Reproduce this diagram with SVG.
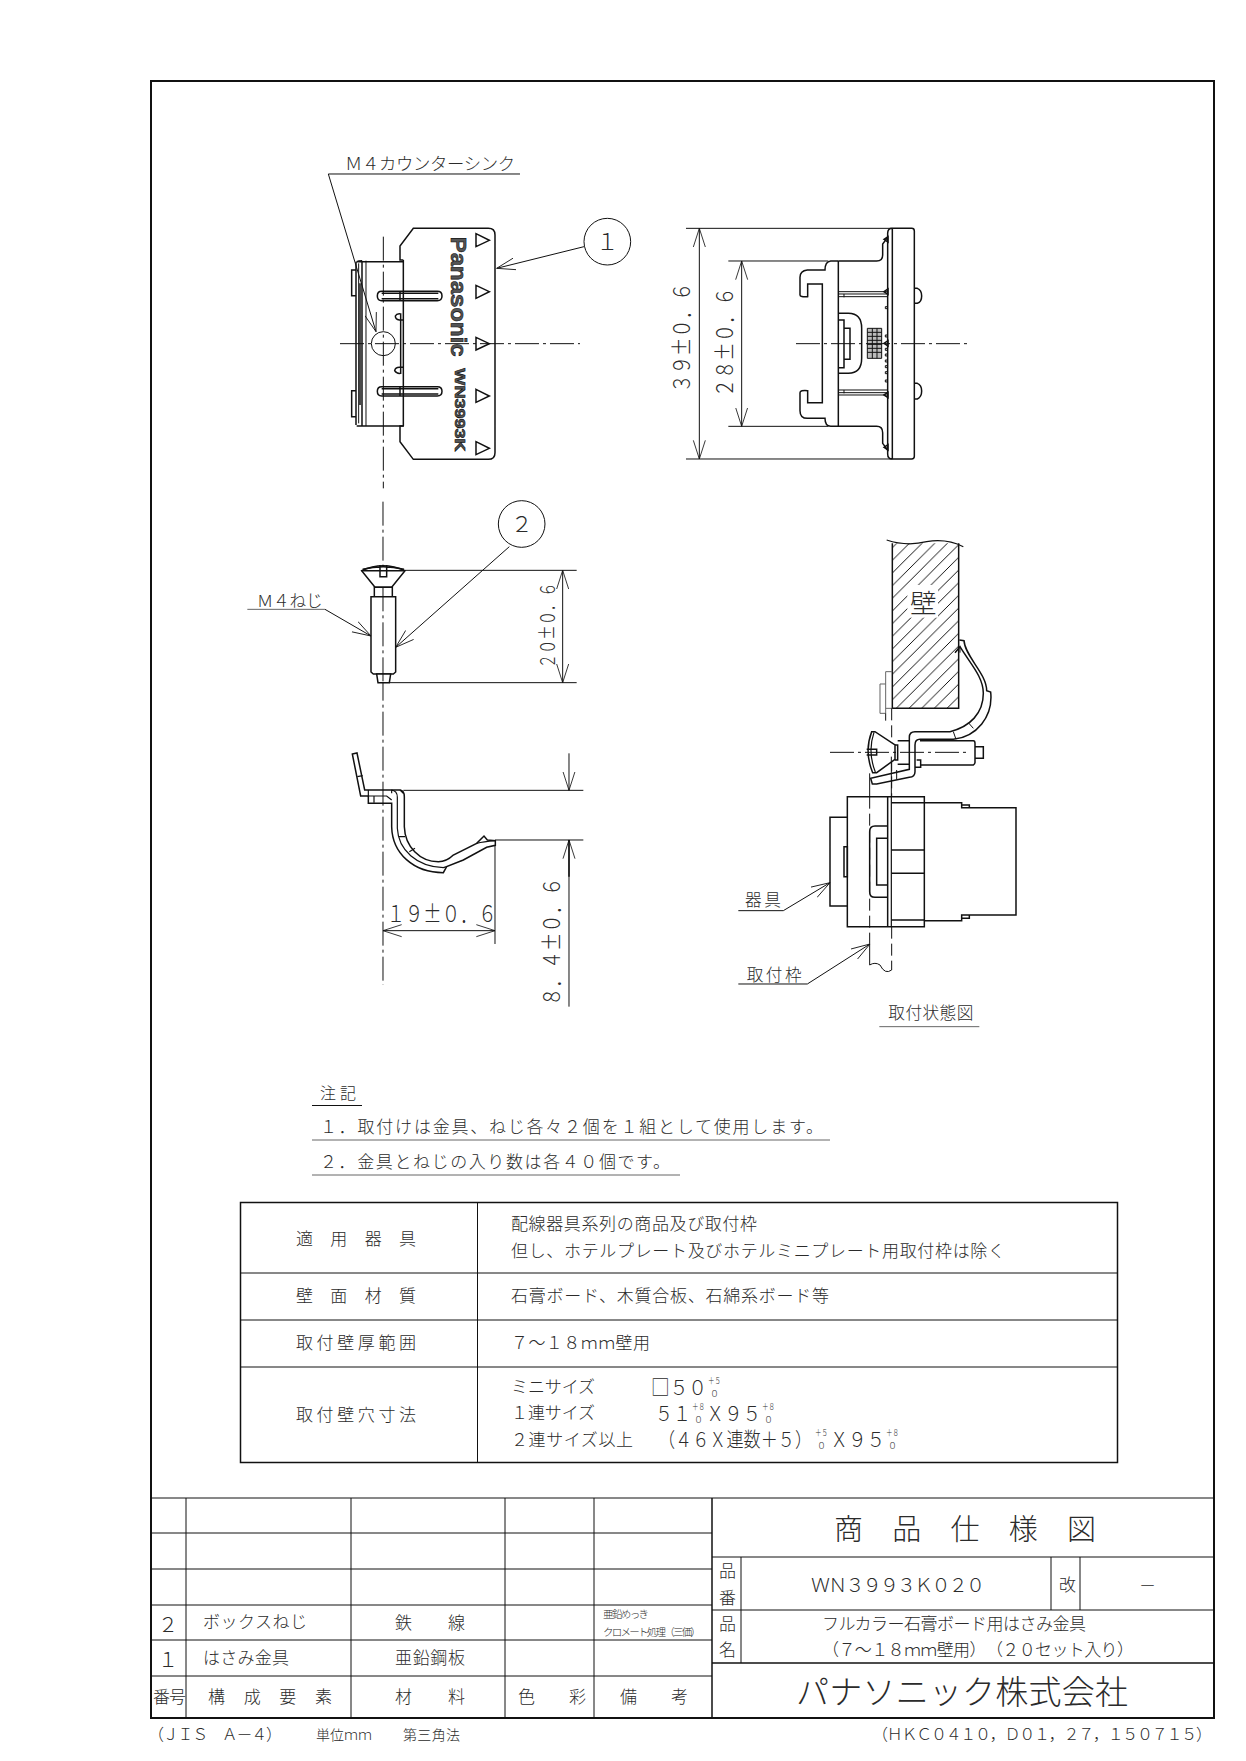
<svg xmlns="http://www.w3.org/2000/svg" width="1246" height="1761" viewBox="0 0 1246 1761">
<style>
text{font-family:"Noto Sans CJK JP","Noto Sans",sans-serif;fill:#2b2b2b;font-variant-east-asian:full-width;font-weight:300}
.p text{font-size:17px}
.p text.sm{font-size:9px}
.p text.md{font-size:20px}
.h,.n,.c,.g,.hi{fill:none;stroke:#111;vector-effect:non-scaling-stroke}
.h{stroke-width:1.5}
.n{stroke-width:1}
.g{stroke:#666;stroke-width:1}
.hi{stroke-width:1.2}
.c{stroke-width:1;stroke-dasharray:24 4 3 4}
.d{stroke-dasharray:12 5}
.a{marker-start:url(#ar);marker-end:url(#ar)}
.e{marker-end:url(#ar)}
.w{fill:#fff}
.big{font-size:68px}
.logo{font-family:"Liberation Sans",sans-serif;font-weight:700;font-variant-east-asian:normal;fill:#555;stroke:#111;stroke-width:.6;vector-effect:non-scaling-stroke}
</style>
<defs>
<marker id="ar" markerUnits="userSpaceOnUse" markerWidth="60" markerHeight="44" refX="56" refY="22" orient="auto-start-reverse"><path d="M0,4 L56,22 L0,40" fill="none" stroke="#111" stroke-width="2.5"/></marker>
<pattern id="hat" patternUnits="userSpaceOnUse" width="38" height="38"><path d="M-4,42 L42,-4 M-4,4 L4,-4 M34,42 L42,34" stroke="#000" stroke-width="2.8"/></pattern>
</defs>
<rect width="1246" height="1761" fill="#fff"/>
<rect id="frame" x="151" y="81" width="1063" height="1637" fill="none" stroke="#111" stroke-width="2"/>

<g id="front-view" transform="translate(300 130) scale(.33333)">
<path class="n" d="M85,132 H660"/>
<path class="n e" d="M85,132 L228,605"/>
<text x="135" y="120" font-size="52" textLength="510" lengthAdjust="spacing">M4カウンターシンク</text>
<path class="h" d="M310,390 H300 V348 L340,295 H565 Q585,295 585,315 V968 Q585,988 565,988 H340 L300,935 V888 H310 M310,295 M310,390 V888"/>
<path class="h" d="M170,395 H312 M170,888 H312 M170,395 Q176,392 186,392 M168,395 V885 M186,392 V888"/>
<path class="n" d="M198,392 V888 M176,400 V880"/>
<path class="h" d="M168,420 H155 V497 H168 M168,782 H155 V860 H168 M180,460 V825"/>
<path class="h" d="M245,484 H412 Q426,484 426,498 Q426,512 412,512 H245 Q232,512 232,498 Q232,484 245,484 Z M245,490 H415 M245,506 H415"/>
<path class="h" d="M245,770 H412 Q426,770 426,784 Q426,798 412,798 H245 Q232,798 232,784 Q232,770 245,770 Z M245,776 H415 M245,792 H415 M300,484 V512 M300,770 V798"/>
<path class="h" d="M312,570 H298 Q286,568 286,558 Q290,550 302,552 V572 M312,712 H298 Q286,712 284,722 Q290,732 302,730 V712 M302,572 V712"/>
<circle class="n" cx="250" cy="641" r="36"/>
<path class="c" d="M120,641 H840"/>
<path class="c" d="M250,320 V1075"/>
<path id="t1" class="h" d="M528,311 L568,331 L528,350 Z M528,466 L568,485 L528,505 Z M528,622 L568,641 L528,660 Z M528,778 L568,798 L528,817 Z M528,935 L568,955 L528,974 Z"/>
<text class="logo" transform="translate(452 320) rotate(90)" font-size="68" textLength="360" lengthAdjust="spacingAndGlyphs">Panasonic</text>
<text class="logo" transform="translate(465 715) rotate(90)" font-size="45" textLength="250" lengthAdjust="spacingAndGlyphs">WN3993K</text>
<circle class="n w" cx="922" cy="335" r="70"/>
<text x="888" y="360" font-size="68">1</text>
<path class="n e" d="M852,350 L590,415"/>
</g>

<g id="side-view" transform="translate(660 200) scale(.33333)">
<path class="n" d="M78,85 H697 M78,777 H697 M205,183 H505 M205,679 H505"/>
<path class="n a" d="M118,85 V777"/>
<path class="n a" d="M245,183 V679"/>
<text transform="translate(90 578) rotate(-90)" class="big" textLength="330" lengthAdjust="spacingAndGlyphs">39±0.6</text>
<text transform="translate(218 592) rotate(-90)" class="big" textLength="330" lengthAdjust="spacingAndGlyphs">28±0.6</text>
<path class="h" d="M697,85 H755 Q763,85 763,93 V769 Q763,777 755,777 H697 V85 M697,85 Q683,85 683,100 V762 Q683,777 697,777"/>
<path class="h" d="M535,183 V681 M535,183 H512 Q495,185 495,210 H442 Q420,212 420,232 V285 Q420,292 443,290 V252 H487 V608 H443 V572 Q420,570 420,578 V632 Q420,655 442,655 H495 Q495,679 512,679 H535"/>
<path class="h" d="M535,183 H650 Q668,183 668,165 V132 L683,112 M535,679 H650 Q668,679 668,698 V730 L683,750"/>
<path class="n" d="M535,275 H683 M535,282 H683 M535,290 H683 M535,570 H683 M535,578 H683 M535,585 H683 M552,282 V292 M552,570 V580"/>
<path class="h" d="M535,340 H565 Q605,340 605,385 V475 Q605,520 565,520 H535 M535,360 H552 V503 H535 M552,385 H570 V478 H552"/>
<path d="M622,385 H665 V475 H622 Z" fill="#bbb"/>
<path class="n" d="M622,385 H665 V475 H622 Z M622,397 H665 M622,409 H665 M622,421 H665 M622,433 H665 M622,445 H665 M622,457 H665 M637,385 V475 M651,385 V475"/>
<path class="h" d="M672,118 L684,110 V126 Z M672,275 L684,267 V283 Z M672,430 L684,422 V438 Z M672,585 L684,577 V593 Z M672,742 L684,734 V750 Z"/>
<path class="n" d="M676,320 h6 v6 h-6 z M676,405 h6 v6 h-6 z M676,445 h6 v6 h-6 z M676,462 h6 v6 h-6 z M676,480 h6 v6 h-6 z M676,497 h6 v6 h-6 z M676,515 h6 v6 h-6 z M676,540 h6 v6 h-6 z"/>
<path class="h" d="M763,265 H772 Q785,270 785,288 Q785,306 772,310 H763 M763,550 H772 Q785,555 785,573 Q785,591 772,597 H763"/>
<path class="c" d="M408,431 H925"/>
</g>

<g id="screw-and-bracket" transform="translate(230 500) scale(.33333)">
<path class="c" d="M459,5 V1455"/>
<circle class="n w" cx="875" cy="72" r="70"/>
<text x="842" y="97" font-size="66">2</text>
<path class="n e" d="M838,140 L497,442"/>
<path class="h w" d="M395,212 Q459,182 525,212 L485,262 H435 Z"/>
<path class="h" d="M398,208 Q459,192 522,208 M395,212 H525 M450,195 V230 H470 V195"/>
<path class="h w" d="M433,262 H487 V290 H433 Z"/>
<path class="h w" d="M423,290 H497 V516 L490,522 H430 L423,516 Z"/>
<path class="h w" d="M440,522 H482 L478,548 H444 Z"/>
<path class="c" d="M459,262 V548"/>
<path class="n" d="M525,211 H1040 M480,548 H1040"/>
<path class="n a" d="M998,211 V548"/>
<text transform="translate(975 505) rotate(-90)" font-size="62" textLength="258" lengthAdjust="spacingAndGlyphs">20±0.6</text>
<path class="g" d="M52,328 H285"/>
<path class="n e" d="M285,328 L423,408"/>
<text x="80" y="320" font-size="50" textLength="198" lengthAdjust="spacing">M4ねじ</text>
<path class="h" d="M367,762 L381,759 L404,870 H510 Q523,872 523,890 V980 C525,1040 570,1085 625,1085 Q650,1085 670,1065 L740,1030 L762,1008 L772,1020 L796,1022 L796,1036 L770,1042 L700,1080 L650,1100 L640,1118 C550,1118 487,1060 485,980 V910 H415 V888 H392 L367,762 Z"/>
<path class="hi" d="M382,830 L398,827 M415,870 V890 M415,888 H470 L485,900 M484,870 Q502,872 502,892 V985 C505,1050 560,1100 640,1103 M485,870 V880 M510,870 L520,880 M505,1010 H525 M538,1055 L555,1045 M432,888 V908 M740,1030 Q760,1025 795,1022 M640,1103 L650,1100"/>
<path class="n" d="M520,871 H1060 M795,1020 H1060 M795,1035 V1332"/>
<path class="n e" d="M1017,760 V871"/>
<path class="n e" d="M1017,1520 V1020"/>
<path class="h" d="M1017,1020 V1130"/>
<text transform="translate(990 1518) rotate(-90)" class="big" textLength="385" lengthAdjust="spacingAndGlyphs">8.4±0.6</text>
<path class="n a" d="M459,1292 H795"/>
<text x="470" y="1265" class="big" textLength="330" lengthAdjust="spacingAndGlyphs">19±0.6</text>
</g>

<g id="installed-view" transform="translate(720 530) scale(.33333)">
<path d="M517,40 H716 V535 H517 Z" fill="url(#hat)"/>
<rect x="562" y="165" width="92" height="98" fill="#fff"/>
<path class="h" d="M517,40 V535 H716 V40"/>
<path class="hi" d="M500,30 Q560,50 620,35 Q680,25 730,50"/>
<text x="570" y="250" font-size="80">壁</text>
<path class="g" d="M497,425 H517 M497,425 V550 M480,462 H497 M480,462 V550 H497 M497,535 H517"/>
<path class="n d" d="M497,550 V572 M515,535 V800 M515,1190 V1320"/>
<path class="h w" d="M455,605 Q432,665 458,728 L470,728 L525,688 V645 L465,605 Z"/>
<path class="hi" d="M462,607 Q442,665 466,726"/>
<path class="h" d="M440,658 H470 V675 H440 M525,645 H533 V690 H525 M533,632 H570 M533,703 H570 M600,632 H760 Q765,632 765,640 V697 Q765,703 760,705 H600 M590,690 H602 V712 H585 M765,650 H790 V685 H765"/>
<path class="h" d="M705,368 L720,350 C750,400 790,440 790,490 C790,550 750,590 690,605 H585 Q568,605 568,622 V690"/>
<path class="h" d="M718,330 L732,332 C735,380 800,430 800,482 L812,486 C820,560 770,620 700,628 H600 Q585,628 585,645 V725 Q585,740 568,742 L470,762 H457 L452,745 L568,718 V690"/>
<path class="n" d="M700,605 L708,628 M745,578 L760,595 M530,720 V748 M720,350 V368"/>
<path class="c" d="M330,667 H740"/>
<path class="n" d="M449,730 V800 M514,680 V800"/>
<path class="h" d="M382,800 H613 V1190 H382 Z M503,800 V1190"/>
<path class="hi" d="M514,800 V1190"/>
<path class="h" d="M514,818 H613 M514,960 H613 M514,1030 H613 M514,1170 H613"/>
<path class="h" d="M382,862 H330 V1128 H382 M372,950 H382 V1040 H372 Z"/>
<path class="h" d="M613,818 H725 V833 H888 V1155 H725 V1172 H613 M725,825 H748 V835 M725,1165 H748 V1155"/>
<path class="h" d="M503,888 H465 Q449,888 449,905 V1085 Q449,1102 465,1102 H503 M503,925 H470 V1065 H503"/>
<path class="n d" d="M449,800 V1240"/>
<path class="n" d="M449,1240 V1305 Q465,1295 480,1305 Q495,1335 515,1320"/>
<path class="n" d="M55,1142 H190"/>
<path class="n e" d="M190,1142 L330,1058"/>
<text x="75" y="1128" font-size="50" textLength="108" lengthAdjust="spacing">器具</text>
<path class="n" d="M55,1362 H262"/>
<path class="n e" d="M262,1362 L450,1242"/>
<text x="80" y="1352" font-size="50" textLength="165" lengthAdjust="spacing">取付枠</text>
<text x="505" y="1467" font-size="50" textLength="255" lengthAdjust="spacing">取付状態図</text>
<path class="g" d="M478,1490 H778"/>
</g>

<g id="notes">
<text x="320" y="1099" font-size="16" textLength="36" lengthAdjust="spacing">注記</text>
<path class="n" d="M312,1105.500 H362"/>
<text x="320" y="1133" font-size="17" textLength="503" lengthAdjust="spacing">1.取付けは金具、ねじ各々2個を1組として使用します。</text>
<path class="g" d="M312,1140 H830"/>
<text x="320" y="1168" font-size="17" textLength="350" lengthAdjust="spacing">2.金具とねじの入り数は各40個です。</text>
<path class="g" d="M312,1175 H680"/>
</g>

<g id="spec-table" class="p">
<rect class="h" x="240.500" y="1202.500" width="877" height="260"/>
<path class="n" d="M477.500,1202 V1463 M240,1273 H1118 M240,1320 H1118 M240,1367 H1118"/>
<text x="296" y="1245" textLength="120" lengthAdjust="spacing">適用器具</text>
<text x="511" y="1230" textLength="246" lengthAdjust="spacing">配線器具系列の商品及び取付枠</text>
<text x="511" y="1257" textLength="494" lengthAdjust="spacing">但し、ホテルプレート及びホテルミニプレート用取付枠は除く</text>
<text x="296" y="1302" textLength="120" lengthAdjust="spacing">壁面材質</text>
<text x="511" y="1302" textLength="318" lengthAdjust="spacing">石膏ボード、木質合板、石綿系ボード等</text>
<text x="296" y="1349" textLength="120" lengthAdjust="spacing">取付壁厚範囲</text>
<text x="511" y="1349" textLength="139" lengthAdjust="spacing">7~18mm壁用</text>
<text x="296" y="1421" textLength="120" lengthAdjust="spacing">取付壁穴寸法</text>
<text x="511" y="1393" textLength="84" lengthAdjust="spacing">ミニサイズ</text>
<text class="md" x="651" y="1395" textLength="56" lengthAdjust="spacingAndGlyphs">□50</text>
<text class="sm" x="708" y="1384" textLength="13" lengthAdjust="spacingAndGlyphs">+5</text>
<text class="sm" x="710" y="1397">0</text>
<text x="511" y="1419" textLength="84" lengthAdjust="spacing">1連サイズ</text>
<text class="md" x="655" y="1421" textLength="36" lengthAdjust="spacingAndGlyphs">51</text>
<text class="sm" x="692" y="1410" textLength="13" lengthAdjust="spacingAndGlyphs">+8</text>
<text class="sm" x="694" y="1423">0</text>
<text class="md" x="706" y="1421" textLength="55" lengthAdjust="spacingAndGlyphs">X95</text>
<text class="sm" x="762" y="1410" textLength="13" lengthAdjust="spacingAndGlyphs">+8</text>
<text class="sm" x="764" y="1423">0</text>
<text x="511" y="1446" textLength="122" lengthAdjust="spacing">2連サイズ以上</text>
<text class="md" x="658" y="1447" textLength="154" lengthAdjust="spacingAndGlyphs">(46X連数+5)</text>
<text class="sm" x="815" y="1436" textLength="13" lengthAdjust="spacingAndGlyphs">+5</text>
<text class="sm" x="817" y="1449">0</text>
<text class="md" x="830" y="1447" textLength="55" lengthAdjust="spacingAndGlyphs">X95</text>
<text class="sm" x="886" y="1436" textLength="13" lengthAdjust="spacingAndGlyphs">+8</text>
<text class="sm" x="888" y="1449">0</text>
</g>

<g id="parts-list" class="p">
<path class="n" d="M151,1498 H1214 M151,1533 H712 M151,1569 H712 M151,1605 H712 M151,1640 H712 M151,1676 H712 M186,1498 V1718 M351,1498 V1718 M505,1498 V1718 M594,1498 V1718"/>
<path class="h" d="M712,1498 V1718"/>
<text x="158" y="1632" style="font-size:20px">2</text>
<text x="203" y="1628" textLength="104" lengthAdjust="spacing">ボックスねじ</text>
<text x="395" y="1629" textLength="70" lengthAdjust="spacing">鉄 線</text>
<text x="603" y="1618" style="font-size:10.500px" textLength="46" lengthAdjust="spacing">亜鉛めっき</text>
<text x="603" y="1636" style="font-size:10.500px" textLength="98" lengthAdjust="spacing">クロメート処理(三価)</text>
<text x="158" y="1667" style="font-size:20px">1</text>
<text x="203" y="1664" textLength="86" lengthAdjust="spacing">はさみ金具</text>
<text x="395" y="1664" textLength="70" lengthAdjust="spacing">亜鉛鋼板</text>
<text x="153" y="1703" textLength="33" lengthAdjust="spacing">番号</text>
<text x="208" y="1703" textLength="124" lengthAdjust="spacing">構成要素</text>
<text x="395" y="1703" textLength="70" lengthAdjust="spacing">材 料</text>
<text x="518" y="1703" textLength="68" lengthAdjust="spacing">色 彩</text>
<text x="620" y="1703" textLength="68" lengthAdjust="spacing">備 考</text>
<text x="148" y="1740" style="font-size:16px" textLength="134" lengthAdjust="spacing">(JIS A-4)</text>
<text x="316" y="1740" style="font-size:14px" textLength="56" lengthAdjust="spacing">単位mm</text>
<text x="403" y="1740" style="font-size:14px" textLength="57" lengthAdjust="spacing">第三角法</text>
</g>

<g id="title-block" class="p">
<path class="n" d="M712,1557 H1214 M712,1610 H1214 M741,1557 V1663 M1051,1557 V1610 M1080,1557 V1610"/>
<path class="h" d="M712,1663 H1214"/>
<text x="834" y="1540" style="font-size:29px" textLength="262" lengthAdjust="spacing">商品仕様図</text>
<text x="719" y="1577" textLength="17" lengthAdjust="spacing">品</text>
<text x="719" y="1604" textLength="17" lengthAdjust="spacing">番</text>
<text x="811" y="1592" style="font-size:19px" textLength="174" lengthAdjust="spacing">WN3993K020</text>
<text x="1059" y="1591" textLength="17" lengthAdjust="spacing">改</text>
<text x="1139" y="1592" style="font-size:17px">-</text>
<text x="719" y="1630" textLength="17" lengthAdjust="spacing">品</text>
<text x="719" y="1656" textLength="17" lengthAdjust="spacing">名</text>
<text x="822" y="1630" textLength="264" lengthAdjust="spacing">フルカラー石膏ボード用はさみ金具</text>
<text x="822" y="1656" textLength="312" lengthAdjust="spacing">(7~18mm壁用)(20セット入り)</text>
<text x="796" y="1704" style="font-size:33px" textLength="332" lengthAdjust="spacing">パナソニック株式会社</text>
<text x="872" y="1740" style="font-size:16px" textLength="340" lengthAdjust="spacing">(HKC0410,D01,27,150715)</text>
</g>
</svg>
